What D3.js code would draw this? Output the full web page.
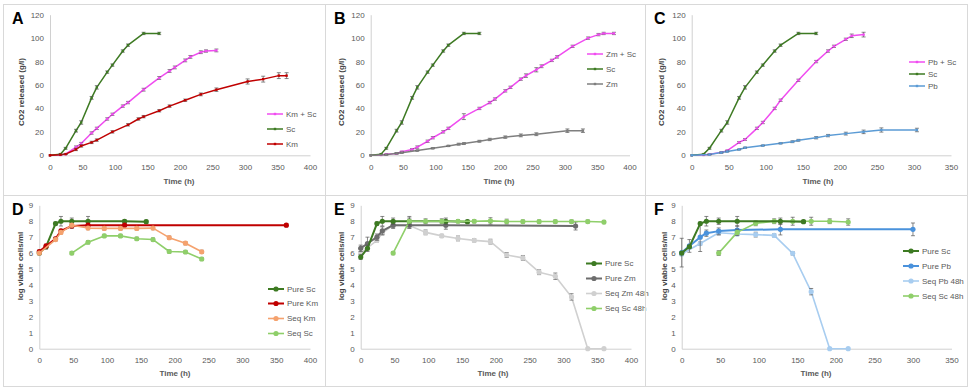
<!DOCTYPE html>
<html>
<head>
<meta charset="utf-8">
<script src="https://cdn.jsdelivr.net/npm/d3@7"></script>
<style>
  body { margin: 0; background: #fff; }
  text { font-family: "Liberation Sans", Arial, sans-serif; }
</style>
</head>
<body>
<div id="chart"></div>
<script>
// tick labels
const co2Ticks = [0, 20, 40, 60, 80, 100, 120];
const logTicks = [0, 1, 2, 3, 4, 5, 6, 7, 8, 9];
const time400Ticks = [0, 50, 100, 150, 200, 250, 300, 350, 400];
const time350Ticks = [0, 50, 100, 150, 200, 250, 300, 350];

// CO2 released (g/l) -- Sc alone, same run in A, B and C
const scTime = [0, 16, 24, 40, 48, 64, 72, 88, 96, 112, 120, 144, 168];
const scCO2 = [0, 1, 6, 21, 28, 49, 58, 71, 77, 89, 94, 104, 104];
const scErr = [0, 0.3, 0.8, 1.2, 1.5, 1.2, 1.5, 1, 1, 1, 1, 1, 1];

const kmScTime = [0, 16, 24, 40, 48, 64, 72, 88, 96, 112, 120, 144, 168, 184, 192, 208, 216, 232, 240, 256];
const kmScCO2 = [0, 0.3, 1, 7, 10, 19, 23, 31, 35, 42, 45, 56, 66, 72, 75, 81, 84, 88, 89, 89.5];
const kmScErr = [0, 0, 0.3, 1, 1, 1, 1, 1, 1, 1, 1, 1.2, 1.2, 1.2, 1.2, 1.2, 1.2, 1.2, 1, 1.2];
const kmTime = [0, 16, 24, 40, 48, 64, 72, 96, 120, 136, 144, 168, 184, 208, 232, 256, 304, 328, 352, 364];
const kmCO2 = [0, 0.5, 1, 5, 8, 11, 13, 20, 26, 31, 33, 38, 42, 47, 52, 56, 63, 65, 68, 68];
const kmErr = [0, 0.3, 0.3, 1, 1, 1, 1, 1, 1, 1, 1, 1, 1, 1, 1.2, 1.5, 2.2, 2.5, 2.5, 2.5];

const zmScTime = [0, 16, 24, 40, 48, 64, 72, 88, 96, 112, 120, 144, 168, 184, 192, 208, 216, 232, 240, 256, 264, 280, 288, 312, 336, 352, 360, 376];
const zmScCO2 = [0, 0.3, 0.8, 1.5, 3, 5, 7, 12, 15, 20, 23, 33, 40, 45, 48, 55, 58, 65, 68, 73, 76, 81, 84, 93, 100, 103, 104, 104];
const zmScErr = [0, 0, 0.3, 0.5, 0.5, 0.8, 1, 1, 1, 1, 1, 2.5, 1, 1, 1, 1, 1, 1, 1.5, 1.8, 1.2, 1, 1, 1, 1, 1, 1, 1];
const zmTime = [0, 24, 40, 48, 72, 96, 120, 136, 144, 168, 184, 208, 232, 256, 304, 328];
const zmCO2 = [0, 0.5, 1.7, 2.2, 4, 6, 8, 9.5, 10, 12, 13.5, 15.5, 17, 18, 21, 21];
const zmErr = [0, 0.3, 0.5, 0.5, 0.5, 0.5, 0.5, 0.8, 0.8, 0.8, 1, 1, 1.2, 1.2, 1.5, 1.5];

const pbScTime = [0, 16, 24, 40, 48, 64, 72, 88, 96, 112, 120, 144, 168, 184, 192, 208, 216, 232];
const pbScCO2 = [0, 0.3, 0.8, 2.5, 4, 11, 13.5, 23, 28, 40, 47, 64, 80, 89, 93, 99, 102, 103];
const pbScErr = [0, 0, 0.3, 0.5, 0.5, 0.8, 0.8, 1, 1, 1, 1, 1, 1, 1, 1, 1, 1.5, 2];
const pbTime = [0, 24, 40, 48, 64, 72, 96, 120, 136, 144, 168, 184, 208, 232, 256, 304];
const pbCO2 = [0, 0.6, 2.3, 3.2, 5, 6.5, 8.3, 10.2, 11.6, 12.8, 15, 16.8, 18.5, 20, 21.6, 21.6];
const pbErr = [0, 0.3, 0.5, 0.5, 0.5, 0.5, 0.5, 0.5, 0.8, 0.8, 1, 1, 1.2, 1.5, 1.8, 1.5];

// log viable cells/ml
const dPureScTime = [0, 10, 24, 32, 48, 72, 126, 158];
const dPureScLog = [6.0, 6.4, 7.85, 8.0, 8.0, 8.0, 8.0, 7.97];
const dPureScErr = [0.1, 0.15, 0.1, 0.3, 0.2, 0.3, 0.1, 0.1];
const dPureKmTime = [0, 10, 24, 32, 48, 72, 126, 365];
const dPureKmLog = [6.1, 6.45, 6.9, 7.4, 7.7, 7.75, 7.75, 7.75];
const dPureKmErr = [0.1, 0.1, 0.1, 0.1, 0.15, 0.1, 0.1, 0.1];
const dSeqKmTime = [0, 24, 32, 48, 72, 96, 120, 144, 168, 192, 216, 240];
const dSeqKmLog = [6.0, 6.85, 7.3, 7.75, 7.57, 7.55, 7.55, 7.55, 7.57, 6.97, 6.62, 6.08];
const dSeqKmErr = [0.1, 0.1, 0.1, 0.1, 0.1, 0.1, 0.1, 0.1, 0.1, 0.1, 0.1, 0.1];
const dSeqScTime = [48, 72, 96, 120, 144, 168, 192, 216, 240];
const dSeqScLog = [6.0, 6.68, 7.08, 7.08, 6.9, 6.85, 6.1, 6.07, 5.63];
const dSeqScErr = [0.1, 0.1, 0.1, 0.1, 0.1, 0.1, 0.1, 0.1, 0.1];

const ePureScTime = [0, 10, 24, 32, 48, 72, 126, 158];
const ePureScLog = [5.75, 6.3, 7.85, 8.0, 8.0, 8.0, 8.0, 7.97];
const ePureScErr = [0.15, 0.2, 0.1, 0.3, 0.2, 0.3, 0.2, 0.1];
const ePureZmTime = [0, 10, 24, 32, 48, 72, 126, 318];
const ePureZmLog = [6.3, 6.6, 7.0, 7.4, 7.75, 7.75, 7.75, 7.7];
const ePureZmErr = [0.2, 0.4, 0.2, 0.25, 0.2, 0.2, 0.25, 0.25];
const eSeqZmTime = [0, 24, 32, 48, 72, 96, 120, 144, 168, 192, 216, 240, 264, 288, 312, 336, 360];
const eSeqZmLog = [6.0, 6.8, 7.25, 7.75, 7.73, 7.3, 7.08, 6.92, 6.8, 6.72, 5.88, 5.7, 4.8, 4.55, 3.25, 0, 0];
const eSeqZmErr = [0.1, 0.1, 0.1, 0.15, 0.15, 0.15, 0.1, 0.15, 0.1, 0.15, 0.15, 0.15, 0.15, 0.2, 0.2, 0, 0];
const eSeqScTime = [48, 72, 96, 120, 144, 168, 192, 216, 240, 264, 288, 312, 336, 360];
const eSeqScLog = [6.0, 8.0, 8.0, 8.0, 8.0, 8.0, 8.02, 7.98, 7.98, 7.98, 7.98, 7.98, 7.98, 7.95];
const eSeqScErr = [0.1, 0.2, 0.15, 0.15, 0.1, 0.1, 0.2, 0.15, 0.1, 0.1, 0.1, 0.1, 0.1, 0.1];

const fPureScTime = [0, 10, 24, 32, 48, 72, 128, 158];
const fPureScLog = [6.0, 6.4, 7.85, 8.0, 8.0, 8.0, 8.0, 7.97];
const fPureScErr = [0.1, 0.1, 0.1, 0.3, 0.2, 0.3, 0.2, 0.1];
const fPurePbTime = [0, 10, 24, 32, 48, 72, 128, 300];
const fPurePbLog = [6.03, 6.45, 7.0, 7.25, 7.38, 7.45, 7.49, 7.49];
const fPurePbErr = [0.9, 0.4, 0.9, 0.2, 0.2, 0.25, 0.35, 0.4];
const fSeqPbTime = [0, 24, 48, 72, 96, 120, 144, 168, 192, 216];
const fSeqPbLog = [5.94, 6.6, 7.28, 7.2, 7.16, 7.11, 5.98, 3.58, 0, 0];
const fSeqPbErr = [0.1, 0.1, 0.15, 0.1, 0.15, 0.1, 0.1, 0.2, 0, 0];
const fSeqScTime = [48, 72, 96, 120, 144, 168, 192, 216];
const fSeqScLog = [6.0, 7.3, 7.87, 8.0, 8.0, 8.0, 8.0, 7.95];
const fSeqScErr = [0.15, 0.2, 0.15, 0.15, 0.25, 0.25, 0.15, 0.2];

const GREEN = "#3d7a22", MAGENTA = "#f04cf0", RED = "#c00000";

const svg = d3.select("#chart")
  .append("svg")
  .attr("width", 970)
  .attr("height", 392);

function co2(name, t, v, e, color) {
  return { name, t, v, e, color, width: 1.5, marker: "square", size: 2.4 };
}
function cells(name, t, v, e, color, width) {
  return { name, t, v, e, color, width, marker: "circle", size: 2.6 };
}

const panels = [
  {
    label: "A", frame: [3, 4, 325, 195],
    left: 50, right: 310, top: 14.7, bottom: 155.3,
    xMax: 400, xTicks: time400Ticks, yMax: 120, yTicks: co2Ticks,
    yTitle: "CO2 released (g/l)", yTitleX: 21, yTitleY: 92,
    xTitleX: 179, xTitleY: 184,
    legend: { x: 267, rows: [114, 129, 144] },
    series: [
      co2("Km + Sc", kmScTime, kmScCO2, kmScErr, MAGENTA),
      co2("Sc", scTime, scCO2, scErr, GREEN),
      co2("Km", kmTime, kmCO2, kmErr, RED)
    ]
  },
  {
    label: "B", frame: [325, 4, 645, 195],
    left: 370.7, right: 629.5, top: 14.7, bottom: 155.3,
    xMax: 400, xTicks: time400Ticks, yMax: 120, yTicks: co2Ticks,
    yTitle: "CO2 released (g/l)", yTitleX: 341, yTitleY: 92,
    xTitleX: 499, xTitleY: 184,
    legend: { x: 587, rows: [54, 69, 84] },
    series: [
      co2("Zm + Sc", zmScTime, zmScCO2, zmScErr, MAGENTA),
      co2("Sc", scTime, scCO2, scErr, GREEN),
      co2("Zm", zmTime, zmCO2, zmErr, "#7f7f7f")
    ]
  },
  {
    label: "C", frame: [645, 4, 967, 195],
    left: 691.7, right: 951, top: 14.7, bottom: 155.3,
    xMax: 350, xTicks: time350Ticks, yMax: 120, yTicks: co2Ticks,
    yTitle: "CO2 released (g/l)", yTitleX: 661, yTitleY: 92,
    xTitleX: 818, xTitleY: 184,
    legend: { x: 909, rows: [62, 74, 86] },
    series: [
      co2("Pb + Sc", pbScTime, pbScCO2, pbScErr, MAGENTA),
      co2("Sc", scTime, scCO2, scErr, GREEN),
      co2("Pb", pbTime, pbCO2, pbErr, "#5b9bd5")
    ]
  },
  {
    label: "D", frame: [3, 195, 325, 386],
    left: 39.3, right: 310, top: 205.3, bottom: 348.7,
    xMax: 400, xTicks: time400Ticks, yMax: 9, yTicks: logTicks,
    yTitle: "log viable cells/ml", yTitleX: 20, yTitleY: 266,
    xTitleX: 175, xTitleY: 376,
    legend: { x: 268, rows: [289, 303.5, 318.5, 333.5] },
    series: [
      cells("Pure Sc", dPureScTime, dPureScLog, dPureScErr, GREEN, 2),
      cells("Pure Km", dPureKmTime, dPureKmLog, dPureKmErr, RED, 2),
      cells("Seq Km", dSeqKmTime, dSeqKmLog, dSeqKmErr, "#f5a26e", 1.6),
      cells("Seq Sc", dSeqScTime, dSeqScLog, dSeqScErr, "#8fcf6a", 1.6)
    ]
  },
  {
    label: "E", frame: [325, 195, 645, 386],
    left: 360.7, right: 631, top: 205.3, bottom: 348.7,
    xMax: 400, xTicks: time400Ticks, yMax: 9, yTicks: logTicks,
    yTitle: "log viable cells/ml", yTitleX: 341, yTitleY: 266,
    xTitleX: 493, xTitleY: 376,
    legend: { x: 586, rows: [263.5, 278.5, 293.5, 308.5] },
    series: [
      cells("Seq Zm 48h", eSeqZmTime, eSeqZmLog, eSeqZmErr, "#d0d0d0", 1.6),
      cells("Pure Zm", ePureZmTime, ePureZmLog, ePureZmErr, "#6d6d6d", 2),
      cells("Pure Sc", ePureScTime, ePureScLog, ePureScErr, GREEN, 2),
      cells("Seq Sc 48h", eSeqScTime, eSeqScLog, eSeqScErr, "#8fcf6a", 1.6)
    ],
    legendOrder: ["Pure Sc", "Pure Zm", "Seq Zm 48h", "Seq Sc 48h"]
  },
  {
    label: "F", frame: [645, 195, 967, 386],
    left: 681.7, right: 951.5, top: 205.3, bottom: 348.7,
    xMax: 350, xTicks: time350Ticks, yMax: 9, yTicks: logTicks,
    yTitle: "log viable cells/ml", yTitleX: 664, yTitleY: 266,
    xTitleX: 816, xTitleY: 376,
    legend: { x: 903, rows: [251, 266, 281, 296] },
    series: [
      cells("Seq Pb 48h", fSeqPbTime, fSeqPbLog, fSeqPbErr, "#a8cdf0", 1.6),
      cells("Pure Pb", fPurePbTime, fPurePbLog, fPurePbErr, "#4a92dc", 2),
      cells("Seq Sc 48h", fSeqScTime, fSeqScLog, fSeqScErr, "#8fcf6a", 1.6),
      cells("Pure Sc", fPureScTime, fPureScLog, fPureScErr, GREEN, 2)
    ],
    legendOrder: ["Pure Sc", "Pure Pb", "Seq Pb 48h", "Seq Sc 48h"]
  }
];

function drawMarker(g, s, cx, cy) {
  if (s.marker === "circle") {
    g.append("circle")
      .attr("cx", cx).attr("cy", cy).attr("r", s.size)
      .attr("fill", s.color);
  } else {
    g.append("rect")
      .attr("x", cx - s.size / 2).attr("y", cy - s.size / 2)
      .attr("width", s.size).attr("height", s.size)
      .attr("fill", s.color);
  }
}

function drawPanel(p) {
  const g = svg.append("g");

  g.append("rect")
    .attr("x", p.frame[0] + 0.5)
    .attr("y", p.frame[1] + 0.5)
    .attr("width", p.frame[2] - p.frame[0])
    .attr("height", p.frame[3] - p.frame[1])
    .attr("fill", "none")
    .attr("stroke", "#d9d9d9");

  const x = d3.scaleLinear().domain([0, p.xMax]).range([p.left, p.right]);
  const y = d3.scaleLinear().domain([0, p.yMax]).range([p.bottom, p.top]);

  const yAxis = g.append("g")
    .attr("transform", `translate(${p.left},0)`)
    .call(d3.axisLeft(y).tickValues(p.yTicks).tickSize(0).tickPadding(6));
  const xAxis = g.append("g")
    .attr("transform", `translate(0,${p.bottom})`)
    .call(d3.axisBottom(x).tickValues(p.xTicks).tickSize(0).tickPadding(9));
  [yAxis, xAxis].forEach(a => {
    a.select(".domain").attr("stroke", "#d0d0d0");
    a.selectAll("text").attr("fill", "#595959").style("font-size", "8px");
  });

  g.append("text")
    .attr("x", p.frame[0] + 9)
    .attr("y", p.frame[1] + 20)
    .style("font-size", "16px")
    .style("font-weight", "bold")
    .attr("fill", "#000")
    .text(p.label);

  g.append("text")
    .attr("transform", `translate(${p.yTitleX},${p.yTitleY}) rotate(-90)`)
    .attr("text-anchor", "middle")
    .attr("dy", "0.35em")
    .style("font-size", "8px")
    .style("font-weight", "bold")
    .attr("fill", "#404040")
    .text(p.yTitle);

  g.append("text")
    .attr("x", p.xTitleX)
    .attr("y", p.xTitleY)
    .attr("text-anchor", "middle")
    .style("font-size", "8px")
    .style("font-weight", "bold")
    .attr("fill", "#595959")
    .text("Time (h)");

  const line = d3.line().x(d => x(d.t)).y(d => y(d.v));

  p.series.forEach(s => {
    const pts = s.t.map((t, i) => ({ t, v: s.v[i], e: s.e[i] }));
    const sg = g.append("g");

    sg.append("path")
      .datum(pts)
      .attr("d", line)
      .attr("fill", "none")
      .attr("stroke", s.color)
      .attr("stroke-width", s.width)
      .attr("stroke-linejoin", "round");

    pts.forEach(d => {
      if (d.e > 0) {
        const x0 = x(d.t), ya = y(d.v + d.e), yb = y(d.v - d.e);
        const eb = sg.append("g").attr("stroke", "#555").attr("stroke-width", 0.7);
        eb.append("line").attr("x1", x0).attr("x2", x0).attr("y1", ya).attr("y2", yb);
        eb.append("line").attr("x1", x0 - 2).attr("x2", x0 + 2).attr("y1", ya).attr("y2", ya);
        eb.append("line").attr("x1", x0 - 2).attr("x2", x0 + 2).attr("y1", yb).attr("y2", yb);
      }
      drawMarker(sg, s, x(d.t), y(d.v));
    });
  });

  const order = p.legendOrder
    ? p.legendOrder.map(n => p.series.find(s => s.name === n))
    : p.series;
  order.forEach((s, i) => {
    const ly = p.legend.rows[i];
    const lg = g.append("g");
    lg.append("line")
      .attr("x1", p.legend.x).attr("x2", p.legend.x + 16)
      .attr("y1", ly).attr("y2", ly)
      .attr("stroke", s.color)
      .attr("stroke-width", s.width);
    drawMarker(lg, s, p.legend.x + 8, ly);
    lg.append("text")
      .attr("x", p.legend.x + 19)
      .attr("y", ly)
      .attr("dy", "0.35em")
      .style("font-size", "8px")
      .attr("fill", "#595959")
      .text(s.name);
  });
}

panels.forEach(drawPanel);
</script>
</body>
</html>
